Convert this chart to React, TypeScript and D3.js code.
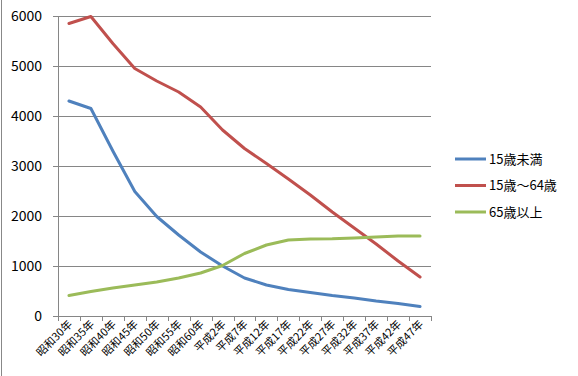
import React from "react";
import * as d3 from "d3";

const categories = ["昭和30年","昭和35年","昭和40年","昭和45年","昭和50年","昭和55年","昭和60年","平成2年","平成7年","平成12年","平成17年","平成22年","平成27年","平成32年","平成37年","平成42年","平成47年"];
const under15 = [4300,4150,3300,2490,1990,1620,1280,1000,760,620,530,470,410,360,300,250,190];
const age15to64 = [5850,5990,5450,4950,4700,4480,4180,3720,3350,3050,2740,2420,2080,1760,1440,1100,780];
const over65 = [410,490,560,620,680,760,860,1010,1250,1420,1520,1540,1545,1560,1580,1600,1600];
const yTicks = [0,1000,2000,3000,4000,5000,6000];
const seriesNames = ["15歳未満","15歳～64歳","65歳以上"];
const colors = ["#4F81BD","#C0504D","#9BBB59"];

export default function App() {
  const W = 578, H = 376;
  const left = 58, right = 431, top = 16, bottom = 316;
  const x = d3.scaleBand<string>().domain(categories).range([left, right]);
  const y = d3.scaleLinear().domain([0, 6000]).range([bottom, top]);
  const line = d3.line<number>().x((_, i) => (x(categories[i]) as number) + x.bandwidth() / 2).y(d => y(d));
  const series = [under15, age15to64, over65];
  const font = "'Noto Sans CJK JP', 'Liberation Sans', sans-serif";
  const boundaries = categories.map(c => x(c) as number).concat([right]);
  return (
    <svg width={W} height={H} style={{ position: "absolute", left: 0, top: 0, background: "#fff" }} fontFamily={font}>
      <rect x={0} y={0} width={W} height={H} fill="#fff" />
      <line x1={1.5} x2={1.5} y1={0} y2={H} stroke="#888" strokeWidth={1} />
      {yTicks.map(t => (
        <g key={t}>
          <line x1={left - 5} x2={right} y1={Math.round(y(t)) + 0.5} y2={Math.round(y(t)) + 0.5} stroke="#868686" strokeWidth={1} />
          <text x={42} y={y(t)} dy="0.36em" textAnchor="end" fontSize={14} fill="#000">{t}</text>
        </g>
      ))}
      <line x1={left + 0.5} x2={left + 0.5} y1={top} y2={bottom + 5} stroke="#868686" strokeWidth={1} />
      {boundaries.map((b, i) => (
        <line key={i} x1={Math.round(b) + 0.5} x2={Math.round(b) + 0.5} y1={bottom} y2={bottom + 5} stroke="#868686" strokeWidth={1} />
      ))}
      {categories.map(c => {
        const cx = (x(c) as number) + x.bandwidth() / 2;
        return (
          <text key={c} transform={`translate(${cx + 4},${bottom + 9}) rotate(-45)`} textAnchor="end" fontSize={11} fill="#000">{c}</text>
        );
      })}
      {series.map((s, i) => (
        <path key={i} d={line(s) as string} fill="none" stroke={colors[i]} strokeWidth={3} strokeLinejoin="round" strokeLinecap="round" />
      ))}
      {seriesNames.map((n, i) => {
        const ly = 159 + i * 26.5;
        return (
          <g key={n}>
            <line x1={455} x2={486} y1={ly} y2={ly} stroke={colors[i]} strokeWidth={3} />
            <text x={489} y={ly} dy="0.36em" fontSize={13} fill="#000">{n}</text>
          </g>
        );
      })}
    </svg>
  );
}
